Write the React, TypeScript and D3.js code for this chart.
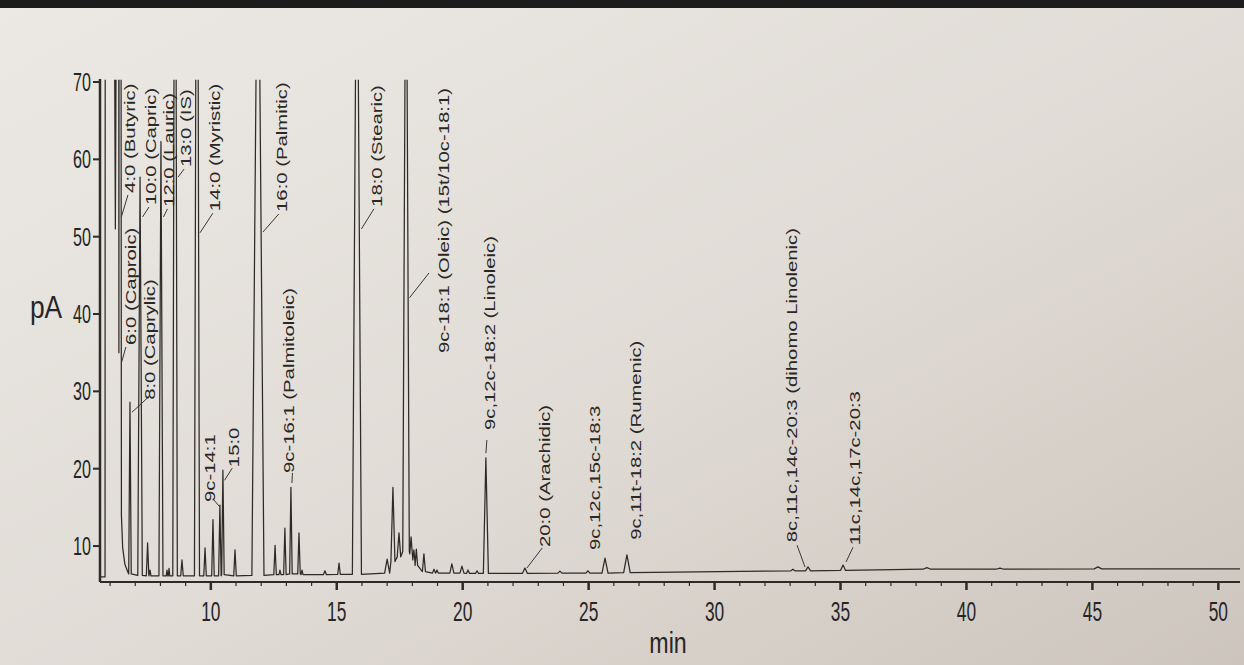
import React, { useEffect, useRef } from "react";
import * as d3 from "d3";

// solvent front: solvent, 4:0 and 6:0 run together, read point by point
const earlyTimes = [5.6, 5.8, 5.84, 6.08, 6.16, 6.21, 6.26, 6.31, 6.35, 6.385, 6.45, 6.5, 6.59, 6.71];
const earlyValues = [6.0, 6.0, 400, 150, 90, 51, 90, 400, 35, 300, 14, 9.8, 7.6, 6.6];

// resolved peaks (min, pA); off-scale peaks get a nominal height above 70
const peakTimes = [
  6.79, 7.19, 7.49, 7.585, 8.02, 8.26, 8.34, 8.58, 8.855, 9.45, 9.77, 10.085, 10.36, 10.48, 10.96,
  11.87, 12.55, 12.745, 12.94, 13.18, 13.5, 13.62, 14.53, 15.09, 15.8, 17.0, 17.23, 17.47, 17.75,
  17.95, 18.06, 18.16, 18.46, 18.86, 18.98, 19.57, 19.97, 20.21, 20.57, 20.92, 22.47, 23.86, 24.97,
  25.65, 26.52, 33.11, 33.71, 35.1, 38.43, 41.33, 45.22,
];
const peakHeights = [
  28.6, 57.7, 10.4, 6.9, 62.3, 6.9, 7.1, 130, 8.2, 130, 9.75, 13.4, 15.3, 19.8, 9.5,
  100, 10.1, 6.9, 12.3, 17.6, 11.7, 6.9, 6.8, 7.8, 100, 8.3, 17.6, 11.7, 100,
  11.2, 9.5, 9.6, 9.0, 7.0, 6.9, 7.7, 7.4, 6.9, 6.8, 21.4, 7.15, 6.75, 6.8,
  8.45, 8.85, 7.0, 7.3, 7.55, 7.2, 7.15, 7.3,
];
const peakHalfWidths = [
  0.05, 0.09, 0.05, 0.04, 0.08, 0.03, 0.03, 0.09, 0.05, 0.1, 0.05, 0.05, 0.05, 0.05, 0.05,
  0.24, 0.05, 0.04, 0.05, 0.05, 0.05, 0.04, 0.06, 0.05, 0.18, 0.1, 0.08, 0.07, 0.13,
  0.05, 0.04, 0.05, 0.06, 0.06, 0.05, 0.08, 0.08, 0.06, 0.06, 0.1, 0.1, 0.08, 0.08,
  0.12, 0.13, 0.08, 0.1, 0.1, 0.15, 0.15, 0.15,
];
const peakBases = [
  6.4, 6.2, 6.15, 6.15, 6.15, 6.15, 6.15, 6.15, 6.15, 6.15, 6.15, 6.15, 6.15, 6.3, 6.15,
  6.2, 6.3, 6.3, 6.3, 6.4, 6.4, 6.3, 6.3, 6.35, 6.35, 6.5, 8.0, 8.6, 9.3,
  9.0, 8.2, 7.5, 6.7, 6.5, 6.5, 6.5, 6.5, 6.45, 6.45, 6.45, 6.45, 6.5, 6.5,
  6.5, 6.55, 6.8, 6.8, 6.85, 7.0, 7.0, 7.05,
];
const tailTimes = [50.86];
const tailValues = [7.05];

// peak names and the retention time each one points at
const labelTexts = [
  "4:0 (Butyric)",
  "6:0 (Caproic)",
  "8:0 (Caprylic)",
  "10:0 (Capric)",
  "12:0 (Lauric)",
  "13:0 (IS)",
  "14:0 (Myristic)",
  "16:0 (Palmitic)",
  "18:0 (Stearic)",
  "9c-18:1 (Oleic) (15t/10c-18:1)",
  "9c,12c-18:2 (Linoleic)",
  "20:0 (Arachidic)",
  "9c,12c,15c-18:3",
  "9c,11t-18:2 (Rumenic)",
  "8c,11c,14c-20:3 (dihomo Linolenic)",
  "11c,14c,17c-20:3",
  "9c-14:1",
  "15:0",
  "9c-16:1 (Palmitoleic)",
];
const labelPeakTimes = [
  6.21, 6.35, 6.79, 7.19, 8.02, 8.58, 9.45, 11.87, 15.8, 17.75, 20.92, 22.47, 25.65, 26.52, 33.71,
  35.1, 10.36, 10.48, 13.18,
];

const yTicks = [10, 20, 30, 40, 50, 60, 70];
const xTickLabels = [10, 15, 20, 25, 30, 35, 40, 45, 50];

// label placement: dx px from peak, text start in pA, leader start level (pA), leader offsets
const labelLayout = [
  { dx: 14.6, bottom: 55.66, lv: 52.55, sx: 6, ex: -2, ey: 2 },
  { dx: 12, bottom: 36.0, lv: 33.67, sx: 2.5, ex: -5, ey: 2 },
  { dx: 20.6, bottom: 28.9, lv: 27.3, sx: 2, ex: -3, ey: -2 },
  { dx: 11, bottom: 54.1, lv: 52.55, sx: 2.5, ex: -2, ey: 2 },
  { dx: 8.5, bottom: 53.85, lv: 52.55, sx: 2.5, ex: -2, ey: 2 },
  { dx: 11, bottom: 59.0, lv: 57.7, sx: 3, ex: -2, ey: 2 },
  { dx: 17.9, bottom: 53.3, lv: 50.5, sx: 3, ex: -2, ey: 2 },
  { dx: 23.9, bottom: 53.2, lv: 50.6, sx: 5, ex: -3, ey: 2 },
  { dx: 20, bottom: 53.85, lv: 51.0, sx: 4.5, ex: -3, ey: 2 },
  { dx: 38, bottom: 34.97, lv: 42.1, sx: 3.5, ex: -15, ey: -80 },
  { dx: 4, bottom: 25.0, lv: 22.0, sx: 0, ex: -3, ey: 10 },
  { dx: 20.3, bottom: 9.88, lv: 7.16, sx: 2, ex: -3, ey: 1 },
  { dx: -10, bottom: 9.49, lv: null, sx: 0, ex: 0, ey: 0 },
  { dx: 9, bottom: 10.8, lv: null, sx: 0, ex: 0, ey: 0 },
  { dx: -16, bottom: 10.5, lv: 7.29, sx: -3, ex: 5, ey: 3 },
  { dx: 12, bottom: 10.1, lv: 7.94, sx: 3, ex: -2, ey: 2 },
  { dx: -10, bottom: 15.7, lv: 15.05, sx: 0, ex: 4, ey: -2 },
  { dx: 11.3, bottom: 20.2, lv: 18.5, sx: 1.6, ex: -2, ey: 1 },
  { dx: -1.5, bottom: 19.45, lv: 18.15, sx: 1, ex: 3, ey: 0 },
];

const ink = "#2e2a27";
const font = "'Liberation Sans', Arial, sans-serif";

function drawChart(node: SVGSVGElement) {
  const svg = d3.select(node);
  svg.selectAll("*").remove();
  const width = 1244,
    height = 665;
  const left = 100,
    right = 1240,
    top = 82,
    bottom = 582;

  const x = d3.scaleLinear().domain([5.6, 50.86]).range([left, right]);
  const y = d3.scaleLinear().domain([5.35, 70]).range([bottom, top]);

  // paper background
  const defs = svg.append("defs");
  const grad = defs
    .append("linearGradient")
    .attr("id", "paper")
    .attr("x1", "0")
    .attr("y1", "0")
    .attr("x2", "1")
    .attr("y2", "1");
  grad.append("stop").attr("offset", "0%").attr("stop-color", "#ece9e4");
  grad.append("stop").attr("offset", "55%").attr("stop-color", "#e0dbd5");
  grad.append("stop").attr("offset", "100%").attr("stop-color", "#cdc5bd");
  defs
    .append("clipPath")
    .attr("id", "plot-clip")
    .append("rect")
    .attr("x", left)
    .attr("y", y(70.3))
    .attr("width", right - left)
    .attr("height", bottom - y(70.3));

  svg.append("rect").attr("width", width).attr("height", height).attr("fill", "url(#paper)");
  svg.append("rect").attr("width", width).attr("height", 8).attr("fill", "#1c1c1c");

  // the trace
  const trace: [number, number][] = earlyTimes.map((t, i) => [t, earlyValues[i]]);
  peakTimes.forEach((t, i) => {
    const hw = peakHalfWidths[i];
    trace.push([t - hw, peakBases[i]], [t, peakHeights[i]], [t + hw, peakBases[i]]);
  });
  tailTimes.forEach((t, i) => trace.push([t, tailValues[i]]));

  const line = d3
    .line<[number, number]>()
    .x((d) => x(d[0]))
    .y((d) => y(d[1]));

  svg
    .append("path")
    .attr("d", line(trace) as string)
    .attr("fill", "none")
    .attr("stroke", ink)
    .attr("stroke-width", 1.25)
    .attr("stroke-linejoin", "round")
    .attr("clip-path", "url(#plot-clip)");

  // Y axis
  svg
    .append("line")
    .attr("x1", left)
    .attr("x2", left)
    .attr("y1", y(70) - 3)
    .attr("y2", bottom)
    .attr("stroke", ink)
    .attr("stroke-width", 2.5);
  svg
    .selectAll(".ytick")
    .data(yTicks)
    .enter()
    .append("line")
    .attr("x1", left - 7)
    .attr("x2", left)
    .attr("y1", (d) => y(d))
    .attr("y2", (d) => y(d))
    .attr("stroke", ink)
    .attr("stroke-width", 2);
  svg
    .selectAll(".ylab")
    .data(yTicks)
    .enter()
    .append("text")
    .attr("transform", (d) => `translate(${left - 9},${y(d) + 9}) scale(0.62,1)`)
    .attr("text-anchor", "end")
    .attr("font-family", font)
    .attr("font-size", 26)
    .attr("fill", "#262626")
    .text((d) => d);

  svg
    .append("text")
    .attr("transform", "translate(46,318) scale(0.85,1)")
    .attr("text-anchor", "middle")
    .attr("font-family", font)
    .attr("font-size", 31)
    .attr("fill", "#262626")
    .text("pA");

  // X axis
  svg
    .append("line")
    .attr("x1", left)
    .attr("x2", right)
    .attr("y1", bottom)
    .attr("y2", bottom)
    .attr("stroke", ink)
    .attr("stroke-width", 2);
  const minor = d3.range(6, 51).filter((d) => d % 5 !== 0);
  svg
    .selectAll(".xminor")
    .data(minor)
    .enter()
    .append("line")
    .attr("x1", (d) => x(d))
    .attr("x2", (d) => x(d))
    .attr("y1", bottom)
    .attr("y2", bottom + 4)
    .attr("stroke", ink)
    .attr("stroke-width", 1.2);
  svg
    .selectAll(".xmajor")
    .data(xTickLabels)
    .enter()
    .append("line")
    .attr("x1", (d) => x(d))
    .attr("x2", (d) => x(d))
    .attr("y1", bottom)
    .attr("y2", bottom + 8)
    .attr("stroke", ink)
    .attr("stroke-width", 2.5);
  svg
    .selectAll(".xlab")
    .data(xTickLabels)
    .enter()
    .append("text")
    .attr("transform", (d) => `translate(${x(d)},${bottom + 39}) scale(0.62,1)`)
    .attr("text-anchor", "middle")
    .attr("font-family", font)
    .attr("font-size", 28)
    .attr("fill", "#262626")
    .text((d) => d);

  svg
    .append("text")
    .attr("transform", `translate(${(left + right) / 2 - 2},653) scale(0.8,1)`)
    .attr("text-anchor", "middle")
    .attr("font-family", font)
    .attr("font-size", 29)
    .attr("fill", "#262626")
    .text("min");

  // peak annotations
  labelTexts.forEach((txt, i) => {
    const L = labelLayout[i];
    const px = x(labelPeakTimes[i]);
    const ax = px + L.dx;
    const ay = y(L.bottom);
    if (L.lv !== null) {
      svg
        .append("line")
        .attr("x1", px + L.sx)
        .attr("y1", y(L.lv))
        .attr("x2", ax + L.ex)
        .attr("y2", ay + L.ey)
        .attr("stroke", "#3a3633")
        .attr("stroke-width", 1);
    }
    svg
      .append("text")
      .attr("transform", `translate(${ax},${ay}) rotate(-90) scale(1.45,1)`)
      .attr("dy", "0.35em")
      .attr("font-family", font)
      .attr("font-size", 14)
      .attr("fill", "#2a2725")
      .text(txt);
  });
}

export default function App() {
  const ref = useRef<SVGSVGElement>(null);
  useEffect(() => {
    document.body.style.margin = "0";
    if (ref.current) drawChart(ref.current);
  }, []);
  return <svg ref={ref} width={1244} height={665} style={{ display: "block" }} />;
}
